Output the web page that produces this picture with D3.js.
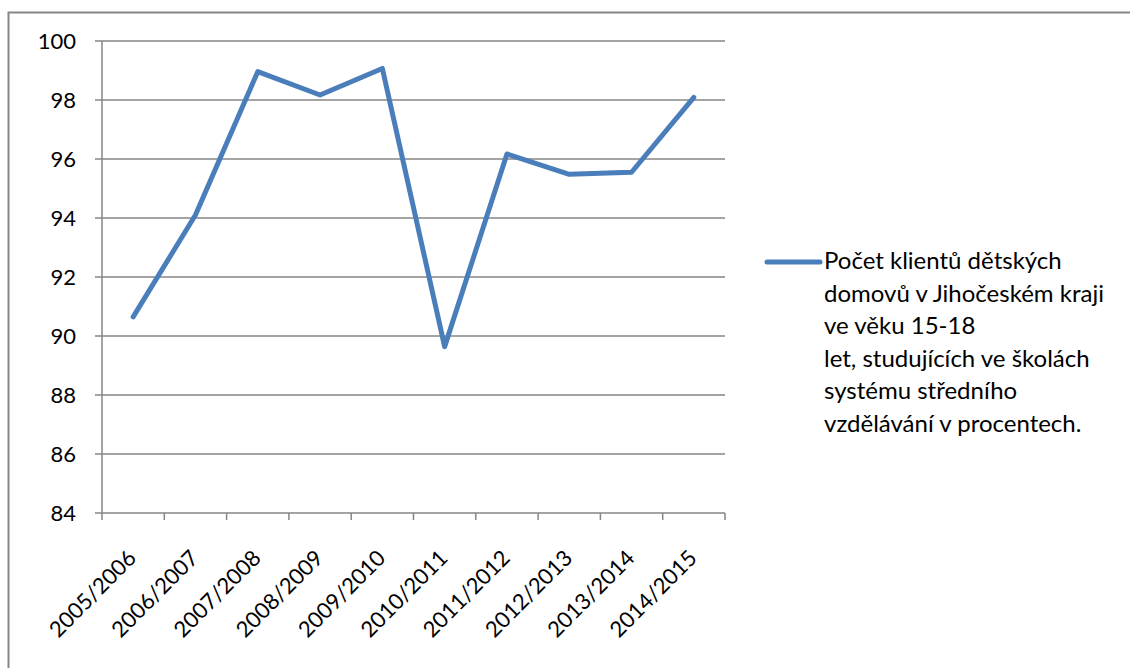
<!DOCTYPE html>
<html>
<head>
<meta charset="utf-8">
<script src="https://cdn.jsdelivr.net/npm/d3@7"></script>
<style>
  body { margin: 0; background: #fff; }
  text { font-family: Lato, "Open Sans", sans-serif; fill: #000; }
</style>
</head>
<body>
<script>
const width = 1130;
const height = 668;

// school years on the x axis
const years = ["2005/2006", "2006/2007", "2007/2008", "2008/2009", "2009/2010",
  "2010/2011", "2011/2012", "2012/2013", "2013/2014", "2014/2015"];
// percent of clients
const percents = [90.65, 94.1, 98.96, 98.17, 99.07, 89.64, 96.17, 95.48, 95.55, 98.09];
const yTicks = [84, 86, 88, 90, 92, 94, 96, 98, 100];
const legendLines = [
  "Počet klientů dětských",
  "domovů v Jihočeském kraji",
  "ve věku 15-18",
  "let, studujících ve školách",
  "systému středního",
  "vzdělávání v procentech."
];

const margin = { left: 102, top: 41, right: 725, bottom: 513 };
const lineColor = "#4a7ebb";
const gridColor = "#868686";

const svg = d3.select("body").append("svg")
  .attr("width", width)
  .attr("height", height);

// outer chart frame
svg.append("rect")
  .attr("x", 8.5).attr("y", 12.5)
  .attr("width", width + 20).attr("height", height + 20)
  .attr("fill", "none")
  .attr("stroke", gridColor)
  .attr("stroke-width", 2);

const x = d3.scaleBand()
  .domain(years)
  .range([margin.left, margin.right]);

const y = d3.scaleLinear()
  .domain([84, 100])
  .range([margin.bottom, margin.top]);

// gridlines
svg.append("g")
  .selectAll("line")
  .data(yTicks)
  .join("line")
  .attr("x1", margin.left - 7)
  .attr("x2", margin.right)
  .attr("y1", d => y(d))
  .attr("y2", d => y(d))
  .attr("stroke", gridColor)
  .attr("stroke-width", 1.5);

// y axis line
svg.append("line")
  .attr("x1", margin.left).attr("x2", margin.left)
  .attr("y1", margin.top).attr("y2", margin.bottom)
  .attr("stroke", gridColor)
  .attr("stroke-width", 1.5);

// y labels
svg.append("g")
  .selectAll("text")
  .data(yTicks)
  .join("text")
  .attr("x", margin.left - 26)
  .attr("y", d => y(d))
  .attr("dy", "0.35em")
  .attr("text-anchor", "end")
  .style("font-size", "22px")
  .text(d => d);

// x ticks
const xTicks = years.map(d => x(d)).concat([margin.right]);
svg.append("g")
  .selectAll("line")
  .data(xTicks)
  .join("line")
  .attr("x1", d => d).attr("x2", d => d)
  .attr("y1", margin.bottom).attr("y2", margin.bottom + 7)
  .attr("stroke", gridColor)
  .attr("stroke-width", 1.5);

// x labels, rotated
svg.append("g")
  .selectAll("text")
  .data(years)
  .join("text")
  .attr("transform", d => `translate(${x(d) + x.bandwidth() / 2 - 1},${margin.bottom + 41}) rotate(-45)`)
  .attr("text-anchor", "end")
  .attr("dy", "0.35em")
  .style("font-size", "22px")
  .text(d => d);

// the series line
const line = d3.line()
  .x((d, i) => x(years[i]) + x.bandwidth() / 2)
  .y(d => y(d));

svg.append("path")
  .datum(percents)
  .attr("d", line)
  .attr("fill", "none")
  .attr("stroke", lineColor)
  .attr("stroke-width", 5)
  .attr("stroke-linejoin", "round")
  .attr("stroke-linecap", "round");

// legend
const legend = svg.append("g");
legend.append("line")
  .attr("x1", 767).attr("x2", 820)
  .attr("y1", 262).attr("y2", 262)
  .attr("stroke", lineColor)
  .attr("stroke-width", 5)
  .attr("stroke-linecap", "round");

legend.selectAll("text")
  .data(legendLines)
  .join("text")
  .attr("x", 824)
  .attr("y", (d, i) => 269 + i * 32.6)
  .style("font-size", "24px")
  .text(d => d);
</script>
</body>
</html>
